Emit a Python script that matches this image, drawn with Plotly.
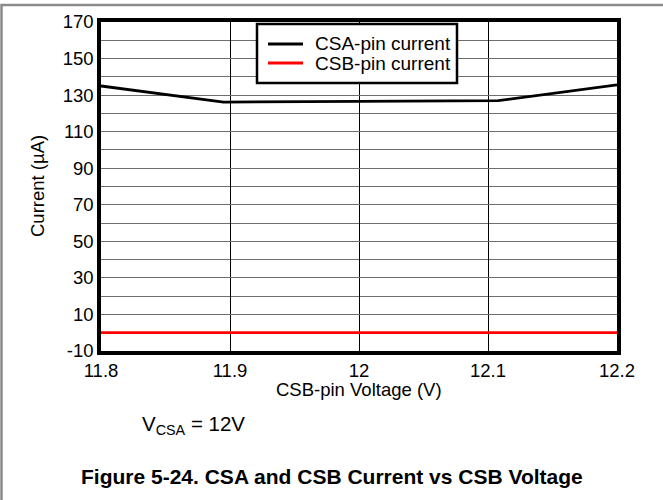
import plotly.graph_objects as go

# CSB-pin voltage sweep (V) and measured pin currents (uA)
csb_voltage = [11.8, 11.895, 12.0, 12.108, 12.2]
csa_current = [135.0, 126.2, 126.6, 127.0, 135.6]
csb_current = [0.0, 0.0, 0.0, 0.0, 0.0]

series_names = ["CSA-pin current", "CSB-pin current"]
series_colors = ["black", "#ff0000"]

x_ticks = [11.8, 11.9, 12.0, 12.1, 12.2]
x_tick_text = ["11.8", "11.9", "12", "12.1", "12.2"]
y_ticks = [-10, 10, 30, 50, 70, 90, 110, 130, 150, 170]
y_tick_text = ["-10", "10", "30", "50", "70", "90", "110", "130", "150", "170"]

FONT = "Arial, Liberation Sans, sans-serif"
W, H = 663, 500
L, R, T, B = 101, 46, 22, 149
PW, PH = W - L - R, H - T - B


def px_x(px):
    return (px - L) / PW


def px_y(py):
    return (H - B - py) / PH


fig = go.Figure()
for ys, name, color in zip([csa_current, csb_current], series_names, series_colors):
    fig.add_trace(go.Scatter(
        x=csb_voltage, y=ys, mode="lines", name=name,
        line=dict(color=color, width=2.8), showlegend=False,
    ))

grid_h = "#6e6e6e"

fig.update_xaxes(
    range=[11.8, 12.2], tickvals=x_ticks, ticktext=x_tick_text,
    showgrid=True, gridcolor="black", gridwidth=1,
    showline=True, linecolor="black", linewidth=3.5, mirror=True,
    ticks="", zeroline=False,
    tickfont=dict(family=FONT, size=18.5, color="black"),
)
fig.update_yaxes(
    range=[-10, 170], tickvals=y_ticks, ticktext=y_tick_text,
    showgrid=True, gridcolor=grid_h, gridwidth=1.3,
    minor=dict(dtick=10, tick0=0, showgrid=True, gridcolor=grid_h, gridwidth=1.3),
    showline=True, linecolor="black", linewidth=3.5, mirror=True,
    ticks="", zeroline=False,
    tickfont=dict(family=FONT, size=18.5, color="black"),
)

annotations = [
    dict(text="CSB-pin Voltage (V)", x=px_x(359), y=px_y(389),
         font=dict(family=FONT, size=18.5, color="black")),
    dict(text="Current (µA)", x=px_x(37), y=px_y(186), textangle=-90,
         font=dict(family=FONT, size=18.5, color="black")),
    dict(text="V<sub>CSA</sub> = 12V", x=px_x(140), y=px_y(425), xanchor="left",
         font=dict(family=FONT, size=20.5, color="black")),
    dict(text="<b>Figure 5-24. CSA and CSB Current vs CSB Voltage</b>",
         x=px_x(331.5), y=px_y(476),
         font=dict(family=FONT, size=21, color="black")),
]

# legend box drawn in the upper middle of the plot
shapes = [
    dict(type="rect", xref="paper", yref="paper",
         x0=px_x(1.5), x1=px_x(670), y0=px_y(520), y1=px_y(5),
         line=dict(color="#8a8a8a", width=2.5), layer="below"),
    dict(type="rect", xref="paper", yref="paper",
         x0=px_x(257), x1=px_x(457), y0=px_y(83), y1=px_y(24),
         fillcolor="white", line=dict(color="black", width=2.5), layer="above"),
]
for i, (name, color) in enumerate(zip(series_names, series_colors)):
    yc = 44 + 19 * i
    shapes.append(dict(type="line", xref="paper", yref="paper",
                       x0=px_x(268), x1=px_x(303), y0=px_y(yc), y1=px_y(yc),
                       line=dict(color=color, width=2.8), layer="above"))
    annotations.append(dict(text=name, x=px_x(313), y=px_y(yc), xanchor="left",
                            font=dict(family=FONT, size=19, color="black")))

for a in annotations:
    a.update(xref="paper", yref="paper", showarrow=False)
    a.setdefault("xanchor", "center")
    a.setdefault("yanchor", "middle")

fig.update_layout(
    width=W, height=H,
    margin=dict(l=L, r=R, t=T, b=B),
    paper_bgcolor="white", plot_bgcolor="white",
    showlegend=False,
    annotations=annotations,
    shapes=shapes,
)

fig.write_html("out.html")
